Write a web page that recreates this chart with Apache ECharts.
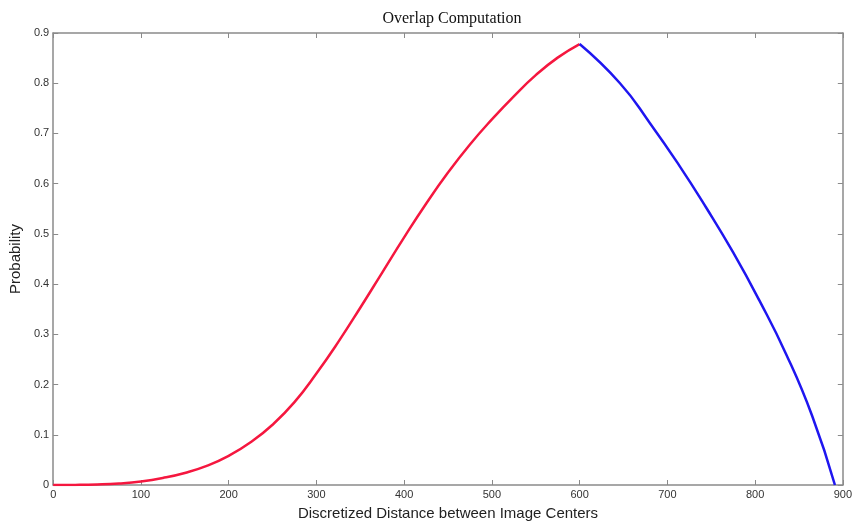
<!DOCTYPE html>
<html><head><meta charset="utf-8">
<script src="https://cdn.jsdelivr.net/npm/echarts@6/dist/echarts.min.js"></script>
<style>html,body{margin:0;padding:0;background:#fff}#c{width:855px;height:526px}</style>
</head><body><div id="c"></div>
<script>
const xTicks = [0,100,200,300,400,500,600,700,800,900];
const yTicks = [0,0.1,0.2,0.3,0.4,0.5,0.6,0.7,0.8,0.9];
const redX = [0,25,50,75,100,125,150,175,200,225,250,275,300,325,350,375,400,425,450,475,500,525,550,575,600];
const redY = [0,0.0002,0.001,0.003,0.007,0.014,0.024,0.038,0.058,0.085,0.12,0.165,0.222,0.285,0.353,0.423,0.493,0.56,0.622,0.678,0.728,0.774,0.816,0.851,0.878];
const blueX = [600,646,680,714,744,775,805,835,865,891];
const blueY = [0.878,0.80,0.721,0.635,0.553,0.463,0.367,0.262,0.138,0];

const chart = echarts.init(document.getElementById('c'));
const axisCol = '#8a8a8a';
const labelCol = '#333';
function xAx(show){return {type:'value',min:0,max:900,interval:100,position:show?'bottom':'top',
  axisLine:{show:true,onZero:false,lineStyle:{color:axisCol,width:1.5}},
  axisTick:{show:true,inside:true,length:5,lineStyle:{color:axisCol}},
  axisLabel:{show:show,color:labelCol,fontFamily:'Liberation Sans',fontSize:11,margin:4},
  splitLine:{show:false},
  name:show?'Discretized Distance between Image Centers':'',nameLocation:'middle',nameGap:21,
  nameTextStyle:{color:'#222',fontFamily:'Liberation Sans',fontSize:15}};}
function yAx(show){return {type:'value',min:0,max:0.9,interval:0.1,position:show?'left':'right',
  axisLine:{show:true,onZero:false,lineStyle:{color:axisCol,width:1.5}},
  axisTick:{show:true,inside:true,length:5,lineStyle:{color:axisCol}},
  axisLabel:{show:show,color:labelCol,fontFamily:'Liberation Sans',fontSize:11,margin:4,
    formatter:v=>String(Math.round(v*10)/10)},
  splitLine:{show:false},
  name:show?'Probability':'',nameLocation:'middle',nameGap:30,
  nameTextStyle:{color:'#222',fontFamily:'Liberation Sans',fontSize:15}};}
chart.setOption({
  animation:false,
  title:{text:'Overlap Computation',left:447,top:6,textAlign:'center',
    textStyle:{fontFamily:'Liberation Serif',fontSize:16,fontWeight:'normal',color:'#111'}},
  grid:{left:50,right:11,top:33,bottom:38},
  xAxis:[xAx(true),xAx(false)],
  yAxis:[yAx(true),yAx(false)],
  series:[
    {type:'line',smooth:0.5,symbol:'none',data:redX.map((x,i)=>[x,redY[i]]),
     lineStyle:{color:'#f5173f',width:2.5}},
    {type:'line',smooth:0.5,symbol:'none',data:blueX.map((x,i)=>[x,blueY[i]]),
     lineStyle:{color:'#1f16f0',width:2.5}}
  ]
});
</script></body></html>
